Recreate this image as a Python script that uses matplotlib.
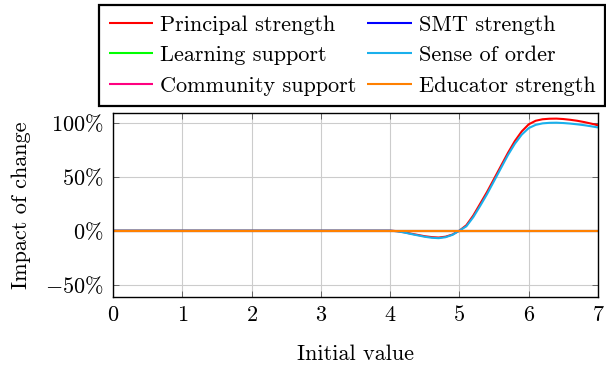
import matplotlib
matplotlib.use("Agg")
import matplotlib.pyplot as plt
from matplotlib.ticker import FixedLocator

plt.rcParams["font.family"] = "serif"
plt.rcParams["font.serif"] = ["cmr10"]
plt.rcParams["mathtext.fontset"] = "cm"
plt.rcParams["axes.unicode_minus"] = False
plt.rcParams["axes.formatter.use_mathtext"] = True

# Sampled initial values and impact (%) for each factor
x_vals = [0.0, 0.5, 1.0, 1.5, 2.0, 2.5, 3.0, 3.5, 4.0,
          4.1, 4.2, 4.3, 4.4, 4.5, 4.6, 4.7, 4.8, 4.9, 5.0,
          5.1, 5.2, 5.3, 5.4, 5.5, 5.6, 5.7, 5.8, 5.9, 6.0,
          6.1, 6.2, 6.3, 6.4, 6.5, 6.6, 6.7, 6.8, 6.9, 7.0]

principal = [0, 0, 0, 0, 0, 0, 0, 0, 0,
             -0.5, -1.5, -2.8, -4.0, -5.2, -6.0, -6.4, -5.6, -3.6, 0,
             5, 14, 25, 36, 48, 60, 72, 83, 92, 98.5,
             101.8, 103.2, 103.7, 103.8, 103.4, 102.7, 101.8, 100.6, 99.2, 97.6]

sense_of_order = [0, 0, 0, 0, 0, 0, 0, 0, 0,
                  -0.6, -1.7, -3.1, -4.4, -5.7, -6.6, -7.0, -6.1, -3.9, 0,
                  4, 12.5, 23, 34, 46, 58, 70, 80.5, 89, 95,
                  98, 99.4, 99.9, 100.0, 99.7, 99.2, 98.5, 97.7, 96.7, 95.6]

flat = [0] * len(x_vals)
smt = flat
learning = flat
community = flat
educator = flat

series = [
    ("Principal strength", principal, "#ff0000"),
    ("SMT strength", smt, "#0000ff"),
    ("Learning support", learning, "#00ff00"),
    ("Sense of order", sense_of_order, "#1ab0ec"),
    ("Community support", community, "#ff0080"),
    ("Educator strength", educator, "#ff8000"),
]

x_ticks = [0, 1, 2, 3, 4, 5, 6, 7]
y_ticks = [-50, 0, 50, 100]
y_tick_labels = [r"$-50\%$", r"$0\%$", r"$50\%$", r"$100\%$"]

FS = 16

fig = plt.figure(figsize=(6.06, 3.68), dpi=100)
ax = fig.add_axes([113 / 606, 1 - 297 / 368, 485 / 606, 184 / 368])

handles = {}
for name, vals, color in series:
    (h,) = ax.plot(x_vals, vals, color=color, lw=1.5, solid_capstyle="butt")
    handles[name] = h

ax.set_xlim(0, 7)
ax.set_ylim(-61.5, 109)
ax.xaxis.set_major_locator(FixedLocator(x_ticks))
ax.set_xticklabels([f"${t}$" for t in x_ticks])
ax.yaxis.set_major_locator(FixedLocator(y_ticks))
ax.set_yticklabels(y_tick_labels)
ax.tick_params(direction="in", length=4, width=0.6, color="#555555",
               top=True, right=True, labelsize=FS)
ax.tick_params(axis="y", pad=7)
ax.tick_params(axis="x", pad=6)
ax.grid(True, color="#cccccc", lw=0.8)
ax.set_axisbelow(True)
for s in ax.spines.values():
    s.set_linewidth(1.0)
    s.set_color("black")

ax.set_xlabel("Initial value", fontsize=FS, labelpad=14)
ax.set_ylabel("Impact of change", fontsize=FS, labelpad=10)

order = ["Principal strength", "Learning support", "Community support",
         "SMT strength", "Sense of order", "Educator strength"]
leg = fig.legend([handles[n] for n in order], order, ncol=2,
                 loc="upper center", bbox_to_anchor=(352 / 606, 1 - 5 / 368),
                 fontsize=FS, frameon=True, fancybox=False, framealpha=1,
                 edgecolor="black", handlelength=2.0, handletextpad=0.3,
                 columnspacing=0.5, labelspacing=0.5, borderpad=0.45,
                 borderaxespad=0)
leg.get_frame().set_linewidth(1.6)

fig.savefig("out.png", dpi=100)
